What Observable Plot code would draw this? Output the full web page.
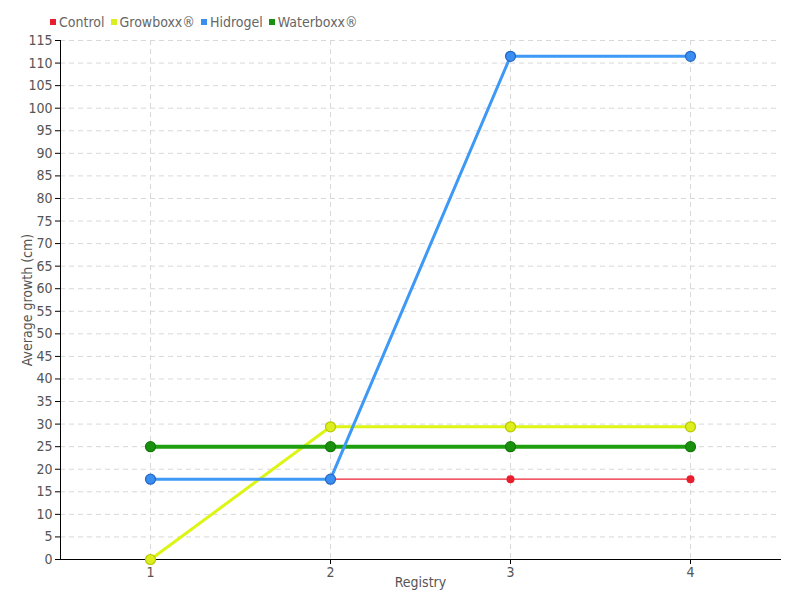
<!DOCTYPE html>
<html><head><meta charset="utf-8">
<script src="https://cdn.jsdelivr.net/npm/d3@7"></script>
<script src="https://cdn.jsdelivr.net/npm/@observablehq/plot@0.6"></script>
<style>
body{margin:0;background:#fff;font-family:"DejaVu Sans Condensed","Liberation Sans Narrow",sans-serif;}
#legend{height:30px;display:flex;align-items:flex-end;padding-left:50px;font-size:14px;color:#666;box-sizing:border-box;padding-bottom:0px;}
#legend span.item{display:inline-flex;align-items:center;margin-right:6px;}
#legend span.sw{display:inline-block;width:6px;height:6px;margin-right:3px;}
</style></head>
<body>
<div id="legend"></div>
<div id="chart"></div>
<script>
const registry = [1, 2, 3, 4];
const seriesNames = ["Control", "Growboxx®", "Hidrogel", "Waterboxx®"];
const control = [17.8, 17.8, 17.8, 17.8];
const growboxx = [0, 29.4, 29.4, 29.4];
const hidrogel = [17.8, 17.8, 111.5, 111.5];
const waterboxx = [25, 25, 25, 25];
const yTicks = d3.range(0, 116, 5);

const colors = {"Control":"#ee2233","Growboxx®":"#ddf514","Hidrogel":"#3d99f5","Waterboxx®":"#1f9e10"};
const dotFill = {"Control":"#e81e2c","Growboxx®":"#dcee1e","Hidrogel":"#3a8ef0","Waterboxx®":"#1a900f"};
const dotStroke = {"Control":"#e81e2c","Growboxx®":"#b9c800","Hidrogel":"#2466c6","Waterboxx®":"#147a0a"};
const widths = {"Control":1.2,"Growboxx®":3,"Hidrogel":3,"Waterboxx®":4};
const radii = {"Control":4,"Growboxx®":5,"Hidrogel":5,"Waterboxx®":5};

const valuesBy = {"Control":control,"Growboxx®":growboxx,"Hidrogel":hidrogel,"Waterboxx®":waterboxx};
const drawOrder = ["Control","Growboxx®","Waterboxx®","Hidrogel"];

const leg = document.getElementById("legend");
for (const s of seriesNames) {
  const it = document.createElement("span"); it.className="item";
  const sw = document.createElement("span"); sw.className="sw"; sw.style.background = dotFill[s];
  it.appendChild(sw); it.appendChild(document.createTextNode(s)); leg.appendChild(it);
}

const marks = [
  Plot.gridY(yTicks, {stroke:"#d8d8d8", strokeOpacity:1, strokeDasharray:"5,4"}),
  Plot.gridX(registry, {stroke:"#d8d8d8", strokeOpacity:1, strokeDasharray:"5,4"}),
  Plot.axisY(yTicks, {tickSize:5, tickPadding:3, stroke:"#000", label:"Average growth (cm)", labelAnchor:"center", labelArrow:"none", labelOffset:38, fill:"#555"}),
  Plot.axisX(registry, {tickSize:5, tickPadding:3, stroke:"#000", label:"Registry", labelAnchor:"center", labelArrow:"none", labelOffset:27, fill:"#555"}),
  Plot.frame({anchor:"left", stroke:"#000"}),
  Plot.frame({anchor:"bottom", stroke:"#000"})
];
for (const s of drawOrder) {
  const data = registry.map((r, i) => ({r, v: valuesBy[s][i]}));
  marks.push(Plot.line(data, {x:"r", y:"v", stroke: colors[s], strokeWidth: widths[s]}));
  marks.push(Plot.dot(data, {x:"r", y:"v", r: radii[s], fill: dotFill[s], stroke: dotStroke[s], strokeWidth: s==="Control"?0:1.2}));
}

const chart = Plot.plot({
  width: 800, height: 570,
  marginTop: 10, marginLeft: 60, marginRight: 20, marginBottom: 41,
  style: {fontFamily: '"DejaVu Sans Condensed","Liberation Sans Narrow",sans-serif', fontSize: "14px", color:"#555", background:"#fff"},
  x: {type:"point", domain: registry, padding: 0.5},
  y: {domain:[0,115]},
  marks
});
document.getElementById("chart").appendChild(chart);
</script>
</body></html>
